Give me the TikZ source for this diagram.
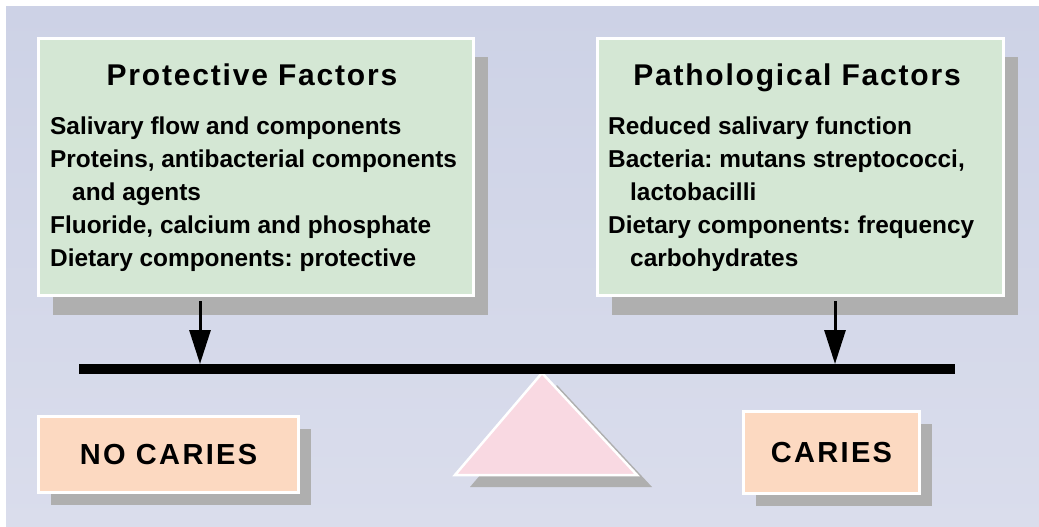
\documentclass[tikz,border=0pt]{standalone}
\usepackage{fontspec}
\setmainfont{Liberation Sans}
\newfontfamily\headfont[LetterSpace=6]{Liberation Sans}
\newfontfamily\capsfont[LetterSpace=8]{Liberation Sans}
\usetikzlibrary{arrows.meta,shadows}
\frenchspacing
\definecolor{bgtop}{RGB}{205,210,230}
\definecolor{bgbot}{RGB}{218,221,236}
\definecolor{greenfill}{RGB}{212,231,212}
\definecolor{peachfill}{RGB}{252,217,193}
\definecolor{pinkfill}{RGB}{249,217,226}
\definecolor{shadowgray}{RGB}{175,175,175}
\tikzset{
  factorbox/.style={draw=white, line width=3pt, fill=greenfill, inner sep=0pt,
    drop shadow={shadow xshift=14pt, shadow yshift=-19pt, fill=shadowgray, opacity=1}},
  outcomebox/.style={draw=white, line width=3pt, fill=peachfill, inner sep=0pt,
    font=\capsfont\fontsize{29}{32}\selectfont\bfseries,
    drop shadow={shadow xshift=12pt, shadow yshift=-12pt, fill=shadowgray, opacity=1}},
  boxtitle/.style={anchor=base, inner sep=0pt, font=\headfont\fontsize{30}{34}\selectfont\bfseries},
  bodyline/.style={anchor=base west, inner sep=0pt, font=\fontsize{24.4}{33}\selectfont\bfseries\frenchspacing},
  beamline/.style={line width=10pt, line cap=butt, black},
  pusharrow/.style={line width=3pt, black, shorten <=4pt, -{Triangle[length=34pt,width=21pt]}},
}
\begin{document}
\begin{tikzpicture}[x=1pt,y=-1pt]
\useasboundingbox (0,0) rectangle (1039,527);
\fill[white] (0,0) rectangle (1039,527);
\shade[top color=bgtop, bottom color=bgbot] (6,7) rectangle (1039,527);

% fulcrum
\coordinate (apex) at (542,373);
\coordinate (bl) at (455,475);
\coordinate (br) at (637,475);
\fill[shadowgray] ([shift={(15,12)}]apex) -- ([shift={(15,12)}]bl) -- ([shift={(15,12)}]br) -- cycle;
\draw[white, line width=2.5pt, fill=pinkfill] (apex) -- (bl) -- (br) -- cycle;

% beam
\coordinate (beamL) at (79,369);
\coordinate (beamR) at (955,369);
\draw[beamline] (beamL) -- (beamR);

% factor boxes
\node[factorbox, minimum width=435pt, minimum height=257pt] (prot) at (256,167) {};
\node[factorbox, minimum width=406pt, minimum height=257pt] (path) at (800.5,167) {};

\node[boxtitle] (protT) at (252,85) {Protective Factors};
\node[bodyline] (p1) at (50,134) {Salivary flow and components};
\node[bodyline] (p2) at (50,167) {Proteins, antibacterial components};
\node[bodyline] (p3) at (72,200) {and agents};
\node[bodyline] (p4) at (50,233) {Fluoride, calcium and phosphate};
\node[bodyline] (p5) at (50,266) {Dietary components: protective};

\node[boxtitle] (pathT) at (797,85) {Pathological Factors};
\node[bodyline] (q1) at (608,134) {Reduced salivary function};
\node[bodyline] (q2) at (608,167) {Bacteria: mutans streptococci,};
\node[bodyline] (q3) at (630,200) {lactobacilli};
\node[bodyline] (q4) at (608,233) {Dietary components: frequency};
\node[bodyline] (q5) at (630,266) {carbohydrates};

% outcome boxes
\node[outcomebox, minimum width=260pt, minimum height=76pt] (nocaries) at (168.5,454.5) {NO CARIES};
\node[outcomebox, minimum width=176pt, minimum height=82pt] (caries) at (831.5,452.5) {CARIES};

% arrows
\coordinate (hitL) at (200,364);
\coordinate (hitR) at (835,364);
\draw[pusharrow] (prot.south -| hitL) -- (hitL);
\draw[pusharrow] (path.south -| hitR) -- (hitR);
\end{tikzpicture}
\end{document}
